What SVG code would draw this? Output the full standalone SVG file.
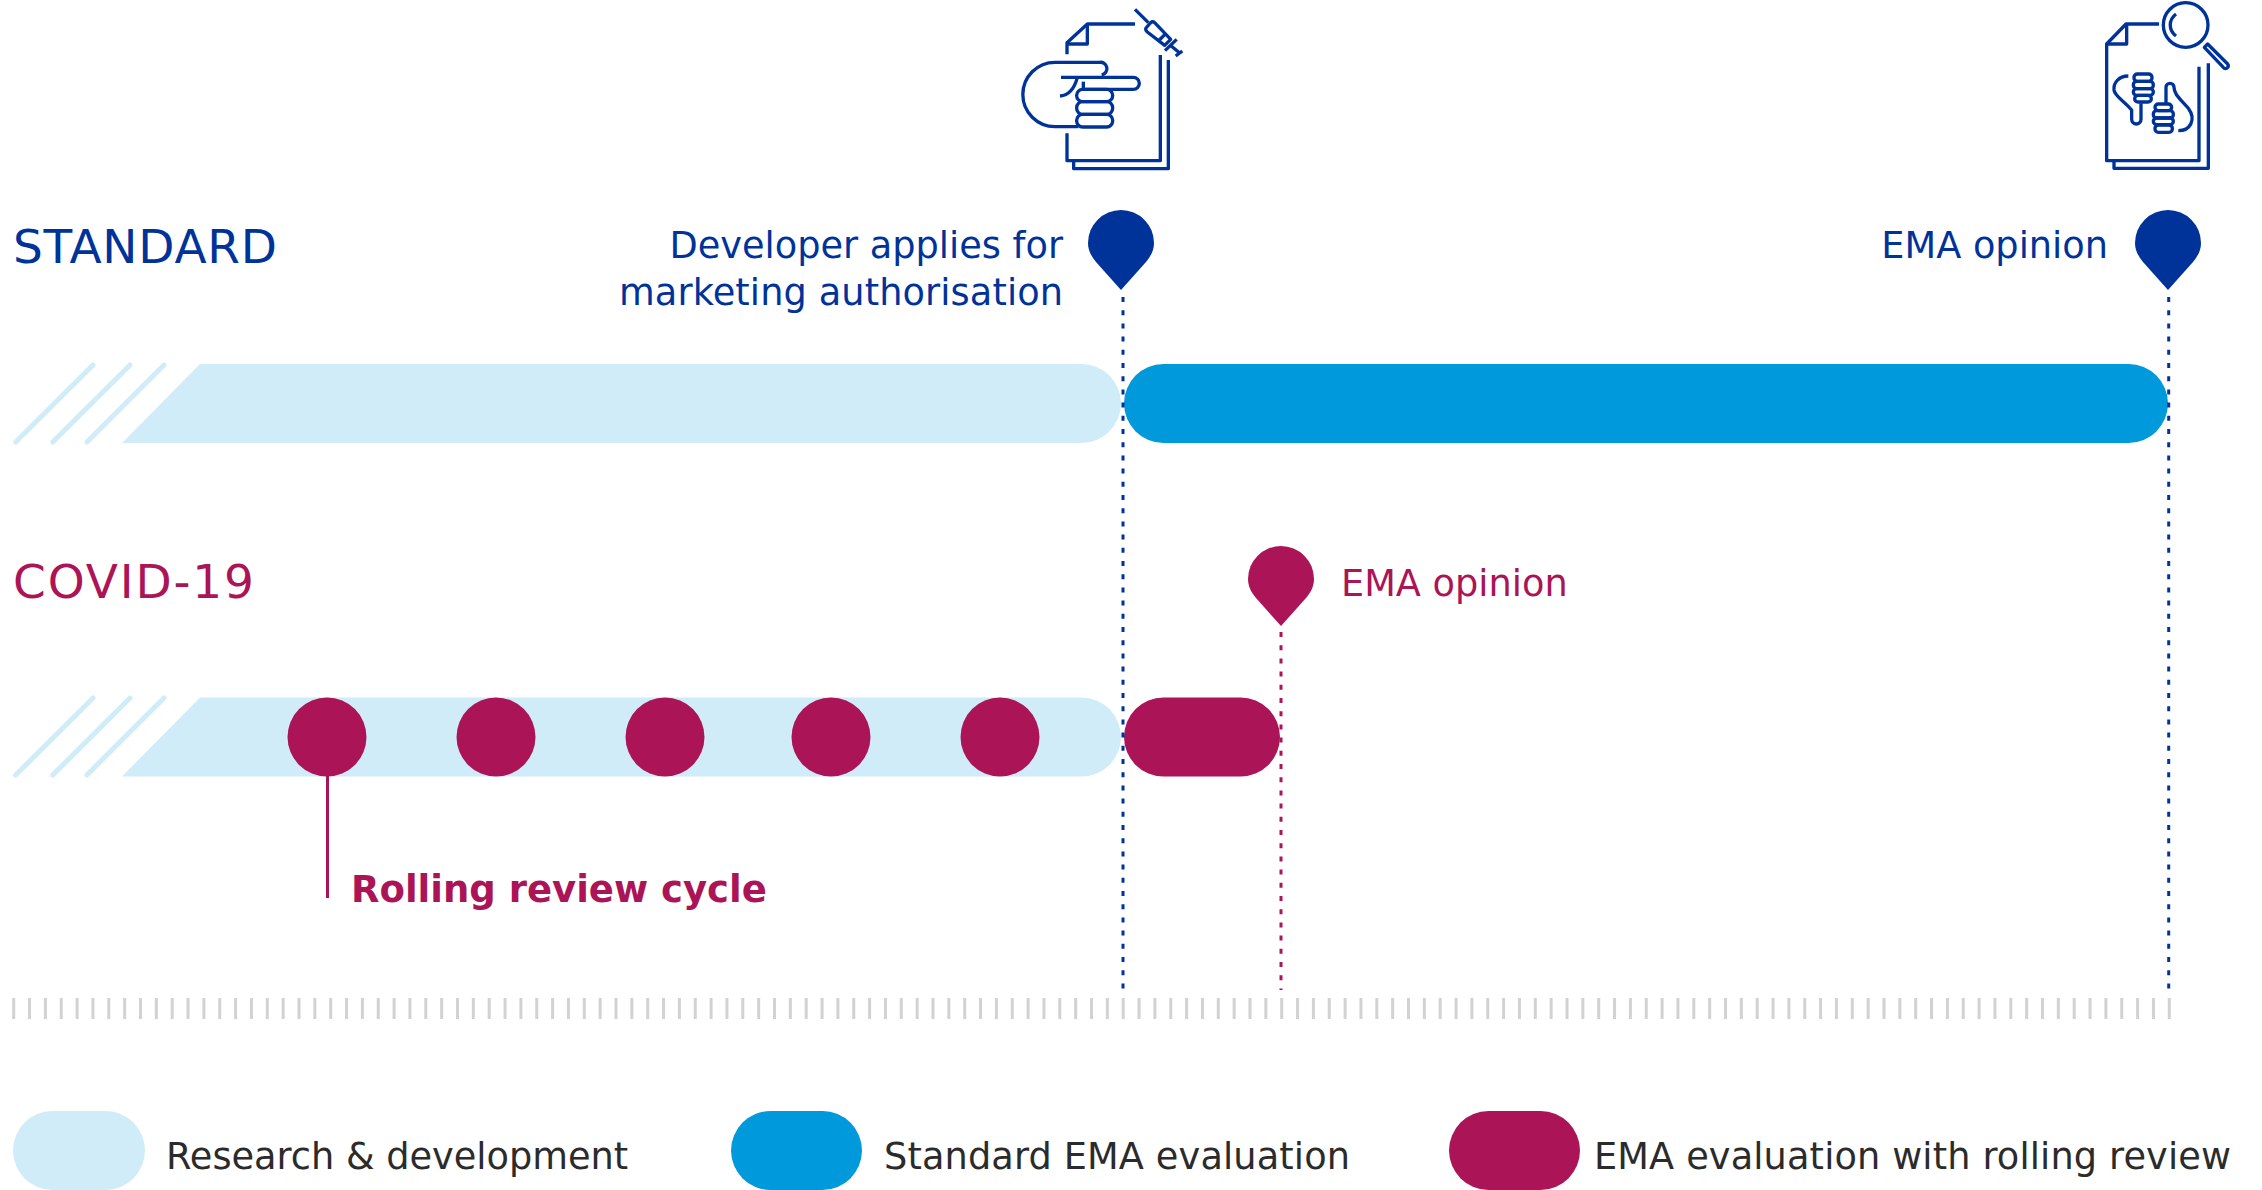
<svg xmlns="http://www.w3.org/2000/svg" width="2262" height="1190" viewBox="0 0 2262 1190">
<style>
text{font-family:"DejaVu Sans","Liberation Sans",sans-serif}
.b{fill:#003399}.m{fill:#ab1456}.k{fill:#2b2b2b}
.lbl{font-size:36.7px}.head{font-size:47px}.leg{font-size:36.7px}
.rd{fill:#d0ecf8}.bl{fill:#0099dc}.mg{fill:#ab1456}
.hatch{stroke:#d0ecf8;stroke-width:5;stroke-linecap:round;fill:none}
.dotb{stroke:#003399;stroke-width:3;stroke-dasharray:5 8.2;fill:none}
.dotm{stroke:#ab1456;stroke-width:3;stroke-dasharray:5 8.2;fill:none}
.ic{fill:none;stroke:#003399;stroke-width:10;stroke-linejoin:round;stroke-linecap:butt}
</style>
<defs>
<path id="pin" d="M0,39 L-25,11 C-30,5 -33,-1 -33,-8 A33,33 0 0 1 33,-8 C33,-1 30,5 25,11 Z"/>
<g id="hatches" class="hatch"><path d="M15.7,442 L93,365M52.7,442 L130,365M87,442 L164,365"/></g>
</defs>

<g id="ticks"><line x1="12.2" y1="1008.5" x2="2171" y2="1008.5" stroke="#d2d2d2" stroke-width="21" stroke-dasharray="3 12.85"/></g>

<g id="standard-rd"><use href="#hatches"/><path class="rd" d="M122,443 L200,364 H1081.500 A39.500,39.500 0 0 1 1081.500,443 Z"/></g>
<g id="standard-eval"><rect class="bl" x="1124" y="364" width="1044" height="79" rx="39.500"/></g>
<g id="covid-rd"><use href="#hatches" y="333"/><path class="rd" d="M122,776.500 L200,697.500 H1081.500 A39.500,39.500 0 0 1 1081.500,776.500 Z"/></g>
<g id="covid-eval"><rect class="mg" x="1124" y="697.500" width="156" height="79" rx="39.500"/></g>

<g id="connectors">
<line class="dotb" x1="1123" y1="297" x2="1123" y2="990"/>
<line class="dotb" x1="2168.700" y1="297" x2="2168.700" y2="990"/>
<line class="dotm" x1="1281" y1="632" x2="1281" y2="990"/>
<line x1="327.500" y1="776" x2="327.500" y2="898" stroke="#ab1456" stroke-width="3"/>
</g>

<g id="cycle-1"><circle class="mg" cx="327" cy="737" r="39.500"/></g>
<g id="cycle-2"><circle class="mg" cx="496" cy="737" r="39.500"/></g>
<g id="cycle-3"><circle class="mg" cx="665" cy="737" r="39.500"/></g>
<g id="cycle-4"><circle class="mg" cx="831" cy="737" r="39.500"/></g>
<g id="cycle-5"><circle class="mg" cx="1000" cy="737" r="39.500"/></g>

<g id="pin-apply"><use href="#pin" class="b" x="1121" y="251"/></g>
<g id="pin-opinion"><use href="#pin" class="b" x="2168" y="251"/></g>
<g id="pin-covid"><use href="#pin" class="m" x="1281" y="587"/></g>

<g id="icon-apply" transform="translate(1000 0) scale(.33333)" class="ic">
<path d="M201,163 V128 L262,72 H405"/><path d="M201,132 H262 V72"/>
<path d="M201,400 V482 H481 V165"/><path d="M221,482 V506 H505 V180"/>
<path d="M405,28 L445,68"/><path d="M438,84 L452,68 Q458,63 464,68 L512,118 L494,136 L442,96 Q435,90 438,84 Z"/>
<path d="M478,120 L495,103"/><path d="M495,152 L530,118"/><path d="M510,135 L540,160"/><path d="M527,168 L547,153"/>
<path d="M165,187 H298 A19,19 0 0 1 305,225"/>
<path d="M165,187 A96,96 0 0 0 165,380 H235"/>
<path d="M183,232 H400 A18,18 0 0 1 400,268 H245"/><path d="M250,245 V268"/>
<path d="M232,232 C225,260 210,285 180,288"/>
<rect x="230" y="268" width="108" height="37" rx="18"/><rect x="230" y="305" width="108" height="38" rx="18"/><rect x="230" y="343" width="108" height="38" rx="18"/>
</g>

<g id="icon-opinion" transform="translate(2090 0) scale(.33333)" class="ic">
<path d="M207,72 H108 L50,132 V482 H327 V200"/><path d="M50,132 H110 V72"/><path d="M72,482 V505 H355 V190"/>
<circle cx="287" cy="75" r="67"/><path d="M258,42 C235,60 235,90 258,108"/>
<path d="M343,142 L353,132 L413,192 Q418,200 410,205 Q404,208 398,200 Z"/>
<path d="M115,228 C85,228 70,250 72,270 C75,290 100,300 125,330 V358 A14,14 0 0 0 153,358 V310"/>
<rect x="132" y="222" width="54" height="22" rx="10"/><rect x="130" y="244" width="60" height="22" rx="10"/><rect x="130" y="266" width="60" height="20" rx="10"/><rect x="134" y="286" width="50" height="20" rx="10"/>
<path d="M228,310 V262 A12,12 0 0 1 252,262 C252,285 275,300 295,325 C320,360 300,392 265,392"/>
<rect x="195" y="312" width="50" height="20" rx="10"/><rect x="190" y="332" width="60" height="22" rx="10"/><rect x="190" y="354" width="60" height="20" rx="10"/><rect x="195" y="375" width="52" height="22" rx="10"/>
</g>

<g id="label-standard"><text class="head b" x="13" y="263" textLength="264">STANDARD</text></g>
<g id="label-covid"><text class="head m" x="13" y="598" textLength="241">COVID-19</text></g>
<g id="label-apply"><text class="lbl b" x="1063" y="258" text-anchor="end">Developer applies for</text><text class="lbl b" x="619" y="305" textLength="444">marketing authorisation</text></g>
<g id="label-opinion"><text class="lbl b" x="2108" y="258" text-anchor="end">EMA opinion</text></g>
<g id="label-opinion-covid"><text class="lbl m" x="1341" y="596">EMA opinion</text></g>
<g id="label-cycle"><text class="lbl m" x="351" y="902" font-weight="700" style="font-size:37px">Rolling review cycle</text></g>

<g id="legend-rd"><rect class="rd" x="13" y="1111" width="132" height="79" rx="39.500"/><text class="leg k" x="166" y="1169">Research &amp; development</text></g>
<g id="legend-standard"><rect class="bl" x="731" y="1111" width="131" height="79" rx="39.500"/><text class="leg k" x="884" y="1169" textLength="466">Standard EMA evaluation</text></g>
<g id="legend-rolling"><rect class="mg" x="1449" y="1111" width="131" height="79" rx="39.500"/><text class="leg k" x="1594" y="1169" textLength="637">EMA evaluation with rolling review</text></g>
</svg>
